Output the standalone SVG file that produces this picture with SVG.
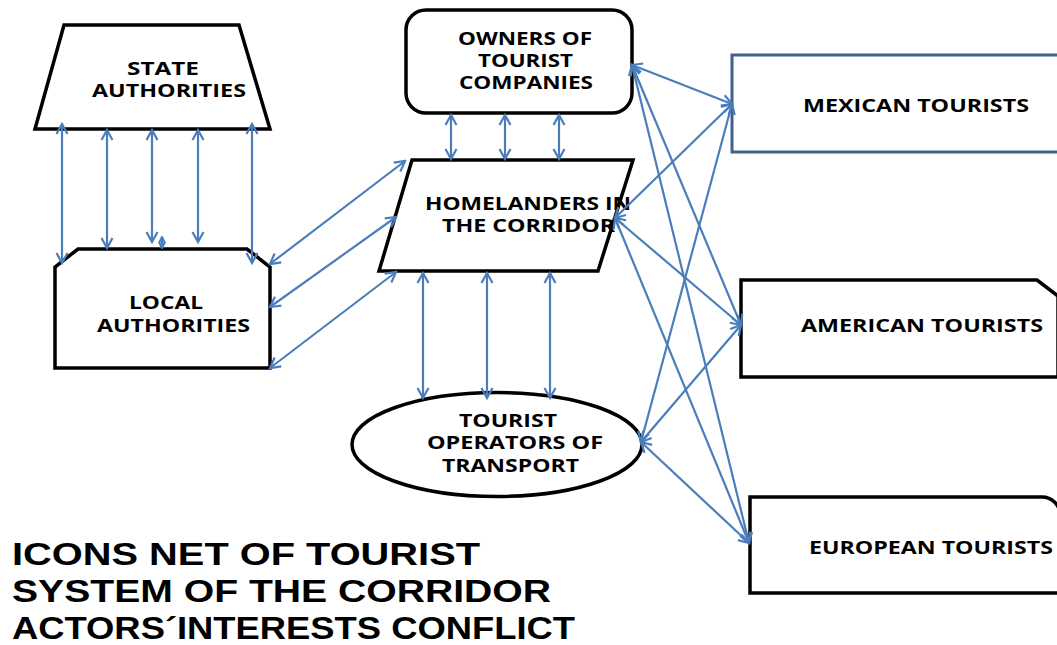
<svg xmlns="http://www.w3.org/2000/svg" width="1057" height="645" viewBox="0 0 1057 645">
<defs>
<marker id="ah" markerUnits="userSpaceOnUse" markerWidth="14" markerHeight="14" viewBox="0 0 14 14" refX="12" refY="7" orient="auto-start-reverse">
<path d="M2,1.5 L12,7 L2,12.5" fill="none" stroke="#4a7ebb" stroke-width="2.2"/>
</marker>
<marker id="ahs" markerUnits="userSpaceOnUse" markerWidth="8" markerHeight="8" viewBox="0 0 8 8" refX="7" refY="4" orient="auto-start-reverse">
<path d="M1,1 L7,4 L1,7" fill="none" stroke="#4a7ebb" stroke-width="2"/>
</marker>
</defs>
<style>
.n{fill:#fff;stroke:#000;stroke-width:3.5;stroke-linejoin:miter}
.t{font-family:"Open Sans","Liberation Sans",sans-serif;font-weight:bold;font-size:17px;fill:#000}
.c line{stroke:#4a7ebb;stroke-width:2.2;marker-start:url(#ah);marker-end:url(#ah)}
.ti{font-family:"Liberation Sans",Arial,sans-serif;font-weight:bold;font-size:32px;fill:#000}
</style>
<rect width="1057" height="645" fill="#fff"/>
<g id="state">
<path class="n" d="M64,25 H239 L270,129 H35 Z"/>
<text class="t" x="127" y="75" textLength="72" lengthAdjust="spacingAndGlyphs">STATE</text>
<text class="t" x="92" y="97" textLength="154" lengthAdjust="spacingAndGlyphs">AUTHORITIES</text>
</g>
<g id="local">
<path class="n" d="M78,249 H247 L270,267 V368 H55 V267 Z"/>
<text class="t" x="129" y="309" textLength="74" lengthAdjust="spacingAndGlyphs">LOCAL</text>
<text class="t" x="97" y="332" textLength="153" lengthAdjust="spacingAndGlyphs">AUTHORITIES</text>
</g>
<g id="owners">
<rect class="n" x="406" y="10" width="226" height="103" rx="20"/>
<text class="t" x="458" y="45" textLength="134" lengthAdjust="spacingAndGlyphs">OWNERS OF</text>
<text class="t" x="478" y="67" textLength="95" lengthAdjust="spacingAndGlyphs">TOURIST</text>
<text class="t" x="459" y="89" textLength="134" lengthAdjust="spacingAndGlyphs">COMPANIES</text>
</g>
<g id="homelanders">
<path class="n" d="M412,160 H633 L598,271 H379 Z"/>
<text class="t" x="425" y="210" textLength="206" lengthAdjust="spacingAndGlyphs">HOMELANDERS IN</text>
<text class="t" x="442" y="232" textLength="173" lengthAdjust="spacingAndGlyphs">THE CORRIDOR</text>
</g>
<g id="operators">
<ellipse class="n" cx="497" cy="444.5" rx="145" ry="52"/>
<text class="t" x="459" y="427" textLength="98" lengthAdjust="spacingAndGlyphs">TOURIST</text>
<text class="t" x="427" y="449" textLength="176" lengthAdjust="spacingAndGlyphs">OPERATORS OF</text>
<text class="t" x="442" y="472" textLength="137" lengthAdjust="spacingAndGlyphs">TRANSPORT</text>
</g>
<g id="mexican">
<rect x="732" y="55" width="330" height="97" fill="#fff" stroke="#41618f" stroke-width="3"/>
<text class="t" x="803" y="112" textLength="226" lengthAdjust="spacingAndGlyphs">MEXICAN TOURISTS</text>
</g>
<g id="american">
<path class="n" d="M741,280 H1037 L1058,296 V377 H741 Z"/>
<text class="t" x="801" y="332" textLength="242" lengthAdjust="spacingAndGlyphs">AMERICAN TOURISTS</text>
</g>
<g id="european">
<path class="n" d="M750,497 H1042 A18,18 0 0 1 1060,515 V593 H750 Z"/>
<text class="t" x="809" y="554" textLength="244" lengthAdjust="spacingAndGlyphs">EUROPEAN TOURISTS</text>
</g>
<g id="connectors" class="c">
<line x1="62" y1="124" x2="62" y2="263"/>
<line x1="107" y1="130" x2="107" y2="248"/>
<line x1="152" y1="130" x2="152" y2="242"/>
<line x1="198" y1="130" x2="198" y2="242"/>
<line x1="252" y1="124" x2="252" y2="263"/>
<line x1="162" y1="237" x2="162" y2="248" style="marker-start:url(#ahs);marker-end:url(#ahs)"/>
<line x1="270" y1="264" x2="405" y2="161"/>
<line x1="270" y1="307" x2="396" y2="217"/>
<line x1="270" y1="368" x2="396" y2="272"/>
<line x1="451" y1="115" x2="451" y2="159"/>
<line x1="505" y1="115" x2="505" y2="159"/>
<line x1="559" y1="115" x2="559" y2="159"/>
<line x1="423" y1="273" x2="423" y2="398"/>
<line x1="487" y1="273" x2="487" y2="398"/>
<line x1="550" y1="273" x2="550" y2="398"/>
<line x1="632" y1="65" x2="732" y2="104"/>
<line x1="632" y1="65" x2="741" y2="325"/>
<line x1="632" y1="65" x2="749" y2="543"/>
<line x1="615" y1="218" x2="732" y2="104"/>
<line x1="615" y1="218" x2="741" y2="325"/>
<line x1="615" y1="218" x2="749" y2="543"/>
<line x1="641" y1="442" x2="732" y2="104"/>
<line x1="641" y1="442" x2="741" y2="325"/>
<line x1="641" y1="442" x2="749" y2="543"/>
</g>
<g id="title">
<text class="ti" x="12" y="565" textLength="468" lengthAdjust="spacingAndGlyphs">ICONS NET OF TOURIST</text>
<text class="ti" x="12" y="602" textLength="539" lengthAdjust="spacingAndGlyphs">SYSTEM OF THE CORRIDOR</text>
<text class="ti" x="12" y="639" textLength="563" lengthAdjust="spacingAndGlyphs">ACTORS´INTERESTS CONFLICT</text>
</g>
</svg>
